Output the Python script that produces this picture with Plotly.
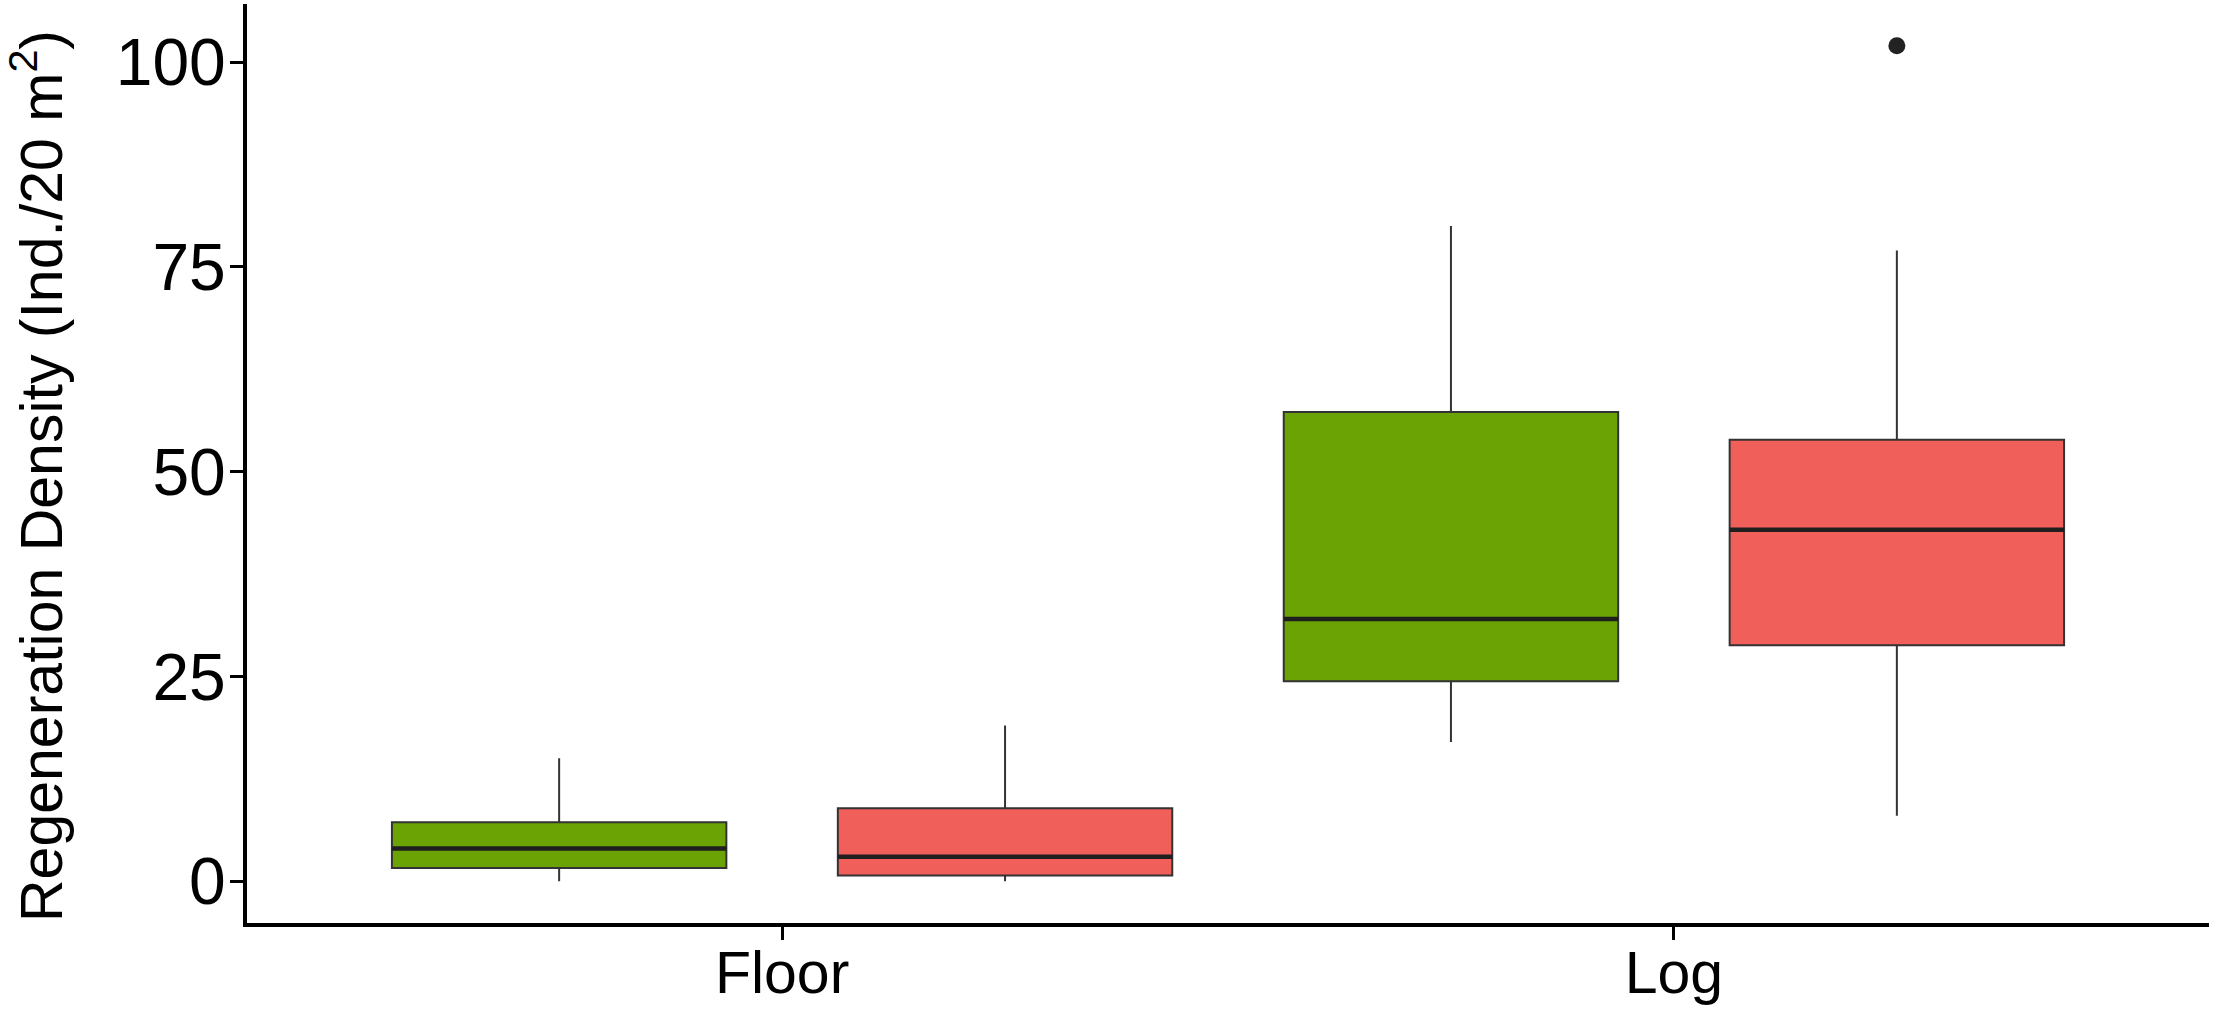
import plotly.graph_objects as go

categories = ["Floor", "Log"]
groups = ["Group 1", "Group 2"]
colors = ["#6BA304", "#F15F5B"]

# per group, per category: lower whisker, Q1, median, Q3, upper whisker
lower = [[0, 17], [0, 8]]
q1 = [[1.6, 24.4], [0.7, 28.8]]
median = [[4.0, 32.0], [3.0, 42.9]]
q3 = [[7.2, 57.3], [8.9, 53.9]]
upper = [[15, 80], [19, 77]]
outlier_group = [1]
outlier_cat = [1]
outlier_val = [102]

y_ticks = [0, 25, 50, 75, 100]
y_title = "Regeneration Density (Ind./20 m<sup>2</sup>)"

dodge = 0.5
box_w = 0.375
cat_pos = [i + 1 for i in range(len(categories))]

fig = go.Figure()
for g, name in enumerate(groups):
    xs = [p + (g - (len(groups) - 1) / 2) * dodge for p in cat_pos]
    fig.add_trace(go.Box(
        x=xs, q1=q1[g], median=median[g], q3=q3[g],
        lowerfence=lower[g], upperfence=upper[g],
        width=box_w, whiskerwidth=0, fillcolor=colors[g],
        line=dict(color="#333333", width=2),
        name=name, showlegend=False, boxpoints=False, hoverinfo="skip"))
    # thick median lines (ggplot style)
    mx, my = [], []
    for x, m in zip(xs, median[g]):
        mx += [x - box_w / 2, x + box_w / 2, None]
        my += [m, m, None]
    fig.add_trace(go.Scatter(x=mx, y=my, mode="lines",
                             line=dict(color="#1f1f1f", width=4.5),
                             showlegend=False, hoverinfo="skip"))

ox = [cat_pos[c] + (g - (len(groups) - 1) / 2) * dodge for g, c in zip(outlier_group, outlier_cat)]
fig.add_trace(go.Scatter(x=ox, y=outlier_val, mode="markers",
                         marker=dict(color="#222222", size=17),
                         showlegend=False, hoverinfo="skip"))

font = "Liberation Sans, Arial, sans-serif"
L, T, B = 247, 4, 93
fig.update_layout(
    template="simple_white",
    width=2217, height=1016,
    margin=dict(l=L, r=8, t=T, b=B),
    plot_bgcolor="white", paper_bgcolor="white",
    boxmode="overlay",
    font=dict(family=font, color="black"),
    xaxis=dict(range=[0.4, 2.6], tickvals=cat_pos, ticktext=categories,
               automargin=False,
               showgrid=False, zeroline=False, showline=True, linecolor="black",
               linewidth=4, ticks="outside", ticklen=13, tickwidth=3, tickcolor="black",
               ticklabelstandoff=-18,
               tickfont=dict(size=59, color="black")),
    yaxis=dict(range=[-5.1, 107.1], tickvals=y_ticks,
               automargin=False,
               showgrid=False, zeroline=False, showline=True, linecolor="black",
               linewidth=4, ticks="outside", ticklen=13, tickwidth=3, tickcolor="black",
               ticklabelstandoff=-9,
               tickfont=dict(size=66, color="black")),
    annotations=[dict(text=y_title, textangle=-90, showarrow=False,
                      xref="paper", yref="paper", x=0, y=(1016 - B - 476) / (1016 - B - T),
                      xanchor="center", yanchor="middle", xshift=37 - L,
                      font=dict(size=59, color="black", family=font))],
)

fig.write_html("out.html", config={"displayModeBar": False},
               post_script="document.body.style.margin='0';document.body.style.overflow='hidden';")
